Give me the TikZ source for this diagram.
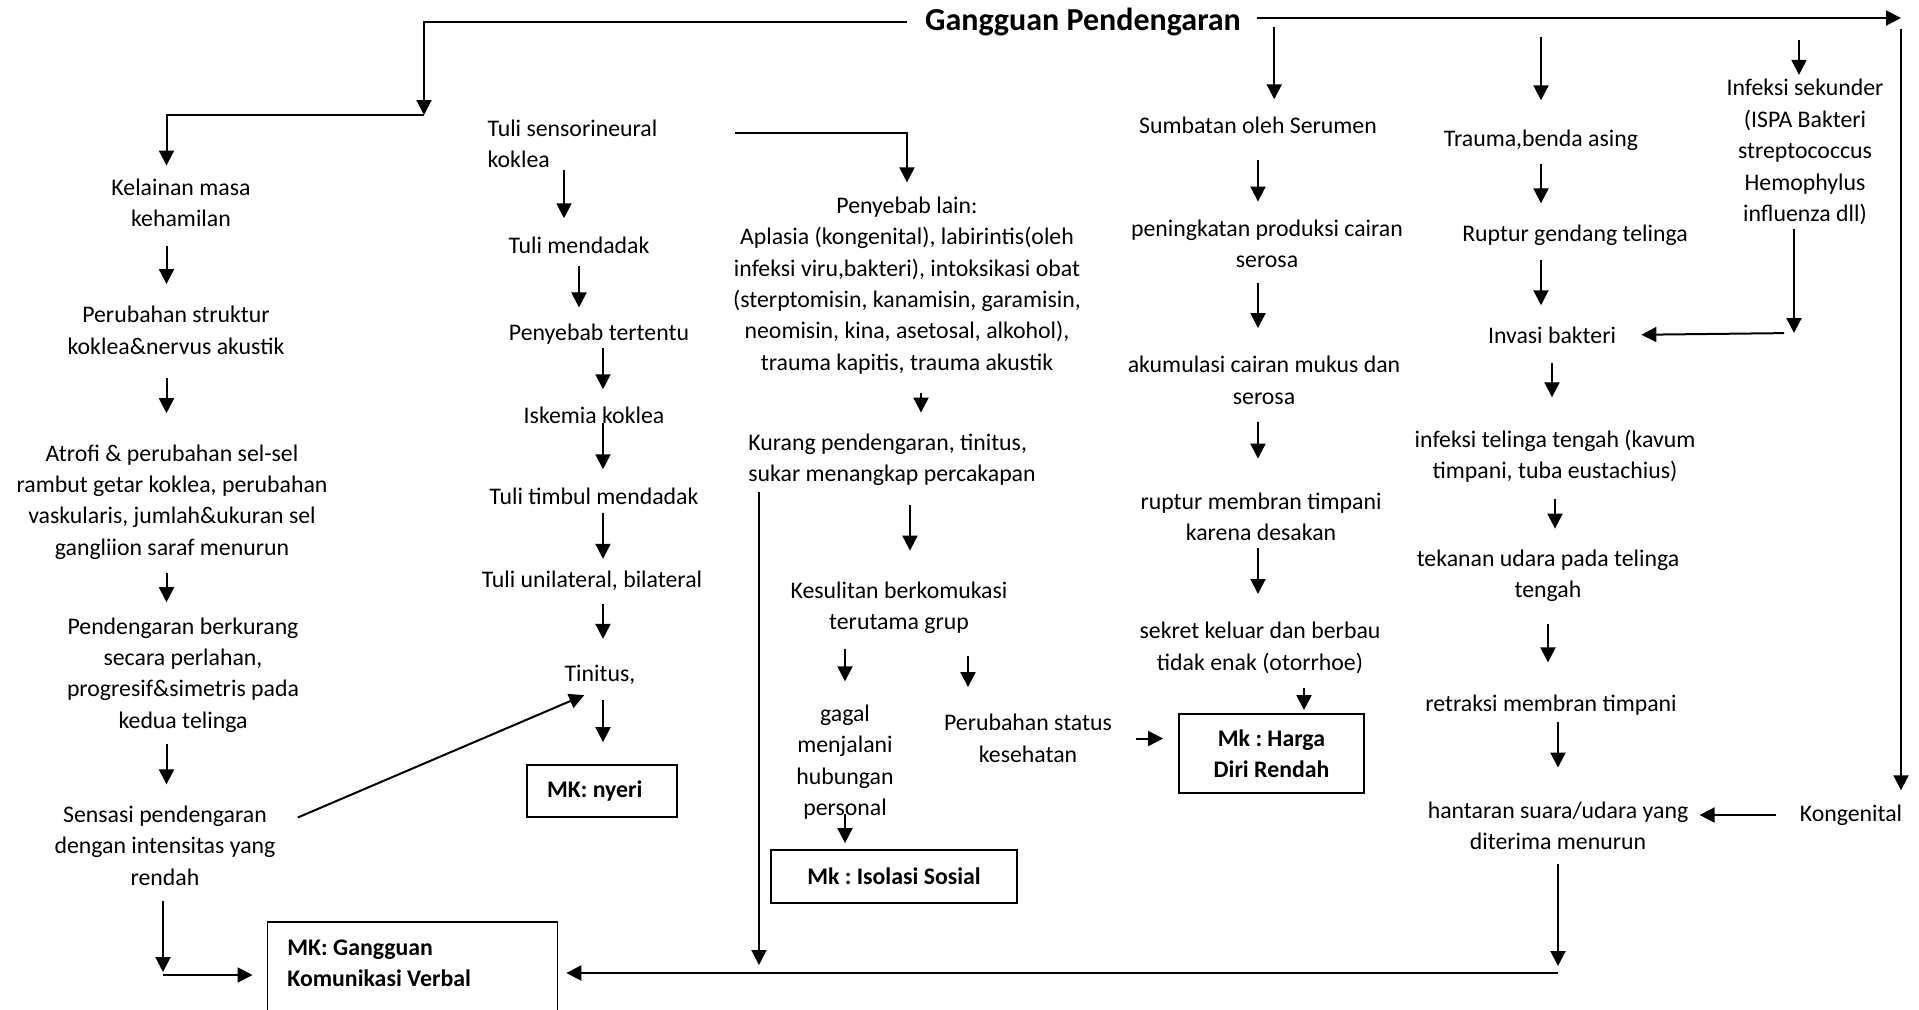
\documentclass[tikz,border=0pt]{standalone}
\usepackage{fontspec}
\setmainfont{Carlito}
\frenchspacing
\usetikzlibrary{arrows.meta}
\begin{document}
\begin{tikzpicture}[x=0.5pt,y=-0.5pt]
		% Styles
		\tikzstyle{panah}=[-{Triangle[length=7.5pt,width=7.5pt]},line width=1pt,shorten <=6pt,shorten >=8pt]
		\tikzstyle{teks}=[align=center,inner sep=1pt,font=\fontsize{11.9}{15.7}\selectfont]
		\tikzstyle{teksKiri}=[teks,align=left]
		\tikzstyle{mk}=[draw,line width=0.9pt,inner xsep=10pt,font=\fontsize{11.9}{15.7}\selectfont\bfseries]
		\useasboundingbox (0,0) rectangle (1919,1009);
		% Points de passage
		\coordinate (kolA) at (166.5,0);
		\coordinate (kolS) at (1258,0);
		\coordinate (kolT) at (603,0);
		\coordinate (tl) at (424,115);
		\coordinate (tr) at (1901,18);
		\coordinate (cp) at (735,133);
		\coordinate (ci) at (1794,333);
		\coordinate (cb) at (163,975);
		\coordinate (hb) at (1558,973);
		% Noeuds
		\node[teks,font=\fontsize{16}{19}\selectfont\bfseries,inner xsep=12pt] (judul) at (1083,22) {Gangguan Pendengaran};
		
		\node[teks] (kel) at (181,203) {Kelainan masa\\kehamilan};
		\node[teks] (pstruk) at (176,330.5) {Perubahan struktur\\koklea\&nervus akustik};
		\node[teks] (atrofi) at (172,502) {Atrofi \& perubahan sel-sel\\rambut getar koklea, perubahan\\vaskularis, jumlah\&ukuran sel\\gangliion saraf menurun};
		\node[teks] (pberk) at (183,675) {Pendengaran berkurang\\secara perlahan,\\progresif\&simetris pada\\kedua telinga};
		\node[teks] (sens) at (165,845.5) {Sensasi pendengaran\\dengan intensitas yang\\rendah};
		
		\node[teksKiri] (tsn) at (572.5,144) {Tuli sensorineural\\koklea};
		\node[teks] (tmd) at (579,245) {Tuli mendadak};
		\node[teks] (pter) at (599,334) {Penyebab tertentu};
		\node[teks] (isk) at (594,415) {Iskemia koklea};
		\node[teks] (ttm) at (594,496) {Tuli timbul mendadak};
		\node[teks] (tul) at (592,581) {Tuli unilateral, bilateral};
		\node[teks] (tin) at (600,675) {Tinitus,};
		\node[mk,text width=55pt,align=flush left,minimum height=26pt] (nyeri) at (602,791) {MK: nyeri};
		
		\node[teks] (pl) at (907,285.5) {Penyebab lain:\\Aplasia (kongenital), labirintis(oleh\\infeksi viru,bakteri), intoksikasi obat\\(sterptomisin, kanamisin, garamisin,\\neomisin, kina, asetosal, alkohol),\\trauma kapitis, trauma akustik};
		\node[teksKiri] (kp) at (892,460) {Kurang pendengaran, tinitus,\\sukar menangkap percakapan};
		\node[teks] (ks) at (899,608) {Kesulitan berkomukasi\\terutama grup};
		\node[teks] (gagal) at (845,762) {gagal\\menjalani\\hubungan\\personal};
		\node[teks] (ps) at (1028,738.5) {Perubahan status\\kesehatan};
		\node[mk,minimum width=123pt,minimum height=26.5pt,align=flush center] (iso) at (894,876.5) {Mk : Isolasi Sosial};
		\node[mk,minimum width=92.5pt,minimum height=39.5pt,align=flush center] (hdr) at (1271.5,753.5) {Mk : Harga\\Diri Rendah};
		
		\node[teks] (srm) at (1258,125) {Sumbatan oleh Serumen};
		\node[teks] (pen) at (1267,244) {peningkatan produksi cairan\\serosa};
		\node[teks] (aku) at (1264,380.5) {akumulasi cairan mukus dan\\serosa};
		\node[teks] (rup) at (1261,517) {ruptur membran timpani\\karena desakan};
		\node[teks] (sek) at (1260,648) {sekret keluar dan berbau\\tidak enak (otorrhoe)};
		
		\node[teks] (tra) at (1541,140) {Trauma,benda asing};
		\node[teks] (rgt) at (1575,235) {Ruptur gendang telinga};
		\node[teks] (inv) at (1552,335) {Invasi bakteri};
		\node[teks] (itt) at (1555,456) {infeksi telinga tengah (kavum\\timpani, tuba eustachius)};
		\node[teks] (tek) at (1548,576) {tekanan udara pada telinga\\tengah};
		\node[teks] (ret) at (1551,705) {retraksi membran timpani};
		\node[teks] (hant) at (1558,826) {hantaran suara/udara yang\\diterima menurun};
		
		\node[teks] (inf) at (1805,152) {Infeksi sekunder\\(ISPA Bakteri\\streptococcus\\Hemophylus\\influenza dll)};
		\node[teks] (kon) at (1851,815) {Kongenital};
		
		\node[mk,anchor=north west,text width=125pt,align=flush left,inner ysep=9pt] (verbal) at (266.5,921) {MK: Gangguan\\Komunikasi Verbal\\\mbox{}};
		
		% Arcs
		\draw[panah,shorten <=-3pt,shorten >=0pt] (judul.west) -| (tl);
		\draw[panah,shorten <=0pt,shorten >=5.5pt] (tl) -| (kel.north -| kolA);
		\draw[panah,shorten <=-4pt,shorten >=0pt] (judul.east |- tr) -- (tr);
		\draw[panah,shorten <=5.5pt,shorten >=6pt] (tr) -- (tr |- kon.north);
		
		\draw[panah,shorten <=8.5pt,shorten >=10pt] (kel.south -| kolA) -- (pstruk.north -| kolA);
		\draw[panah,shorten <=10.5pt,shorten >=14.5pt] (pstruk.south -| kolA) -- (atrofi.north -| kolA);
		\draw[panah,shorten <=5.5pt,shorten >=6.5pt] (atrofi.south -| kolA) -- (pberk.north -| kolA);
		\draw[panah,shorten <=4.5pt,shorten >=9.5pt] (pberk.south -| kolA) -- (sens.north -| kolA);
		\draw[panah,shorten <=6.5pt,shorten >=1.5pt] (sens.south -| cb) -- (cb);
		\draw[panah,shorten <=0pt,shorten >=7pt] (cb) -- (verbal.west |- cb);
		\draw[panah,shorten <=0pt,shorten >=0pt] ([shift={(10pt,14pt)}]sens.east) -- ([shift={(11pt,-4pt)}]tin.south west);
		
		\draw[panah,shorten <=0pt,shorten >=8pt] ([xshift=-4.25pt]tsn.south) -- ([xshift=-4.25pt]tsn.south |- tmd.north);
		\draw[panah,shorten <=5pt,shorten >=7pt] (tmd.south) -- (tmd.south |- pter.north);
		\draw[panah,shorten <=0.5pt,shorten >=7.5pt] (pter.south -| kolT) -- (isk.north -| kolT);
		\draw[panah,shorten <=-1.5pt,shorten >=8pt] (isk.south -| kolT) -- (ttm.north -| kolT);
		\draw[panah,shorten <=3pt,shorten >=5pt] (ttm.south -| kolT) -- (tul.north -| kolT);
		\draw[panah,shorten <=5.5pt,shorten >=12pt] (tul.south -| kolT) -- (tin.north -| kolT);
		\draw[panah,shorten <=6.5pt,shorten >=11pt] (tin.south -| kolT) -- (nyeri.north -| kolT);
		
		\draw[panah,shorten <=0pt,shorten >=6pt] (cp) -| (pl.north);
		\draw[panah,shorten <=8pt,shorten >=9.5pt] ([xshift=7pt]pl.south) -- ([xshift=7pt]pl.south |- kp.north);
		\draw[panah,shorten <=8.5pt,shorten >=14.5pt] ([xshift=5.5pt]ks.north |- kp.south) -- ([xshift=5.5pt]ks.north);
		\draw[panah,shorten <=2pt,shorten >=4pt] ([xshift=6.5pt]kp.south west) -- ([xshift=6.5pt]kp.south west |- hb);
		\draw[panah,shorten <=6.5pt,shorten >=10.5pt] (gagal.north |- ks.south) -- (gagal.north);
		\draw[panah,shorten <=10pt,shorten >=12.5pt] ([xshift=-30pt]ps.north |- ks.south) -- ([xshift=-30pt]ps.north);
		\draw[panah,shorten <=-4pt,shorten >=3pt] (gagal.south) -- (gagal.south |- iso.north);
		\draw[panah,shorten <=11pt,shorten >=7.5pt] (ps.east) -- (ps.east -| hdr.west);
		
		\draw[panah,shorten <=2.5pt,shorten >=7.5pt] ([xshift=4.5pt]judul.east) -- ([xshift=4.5pt]judul.east |- srm.north);
		\draw[panah,shorten <=12pt,shorten >=8pt] (srm.south -| kolS) -- (pen.north -| kolS);
		\draw[panah,shorten <=6.5pt,shorten >=13pt] (pen.south -| kolS) -- (aku.north -| kolS);
		\draw[panah,shorten <=7.5pt,shorten >=16pt] (aku.south -| kolS) -- (rup.north -| kolS);
		\draw[panah,shorten <=2.5pt,shorten >=13pt] (rup.south -| kolS) -- (sek.north -| kolS);
		\draw[panah,shorten <=6pt,shorten >=1.5pt] ([xshift=22pt]sek.south) -- ([xshift=22pt]sek.south |- hdr.north);
		
		\draw[panah,shorten <=9.5pt,shorten >=13.5pt] (tra.north |- tr) -- (tra.north);
		\draw[panah,shorten <=5.5pt,shorten >=9.5pt] (tra.south) -- (tra.south |- rgt.north);
		\draw[panah,shorten <=6pt,shorten >=9.5pt] (rgt.south -| tra.south) -- (inv.north -| tra.south);
		\draw[panah,shorten <=8.5pt,shorten >=15pt] (inv.south) -- (inv.south |- itt.north);
		\draw[panah,shorten <=7pt,shorten >=9.5pt] (itt.south) -- (itt.south |- tek.north);
		\draw[panah,shorten <=10pt,shorten >=15pt] (tek.south) -- (tek.south |- ret.north);
		\draw[panah,shorten <=2pt,shorten >=16pt] (hant.north |- ret.south) -- (hant.north);
		\draw[panah,shorten <=6pt,shorten >=3.5pt] (hant.south) -- (hb);
		\draw[panah,shorten <=0pt,shorten >=4pt] (hb) -- (verbal.east |- hb);
		
		\draw[panah,shorten <=11pt,shorten >=1pt] ([xshift=-3pt]inf.north |- tr) -- ([xshift=-3pt]inf.north);
		\draw[panah,shorten <=1pt,shorten >=0pt] (inf.south -| ci) -- (ci);
		\draw[panah,shorten <=5pt,shorten >=11.5pt] (ci) -- (inv.east);
		\draw[panah,shorten <=10.5pt,shorten >=4.5pt] (kon.west) -- (kon.west -| hant.east);
\end{tikzpicture}
\end{document}
